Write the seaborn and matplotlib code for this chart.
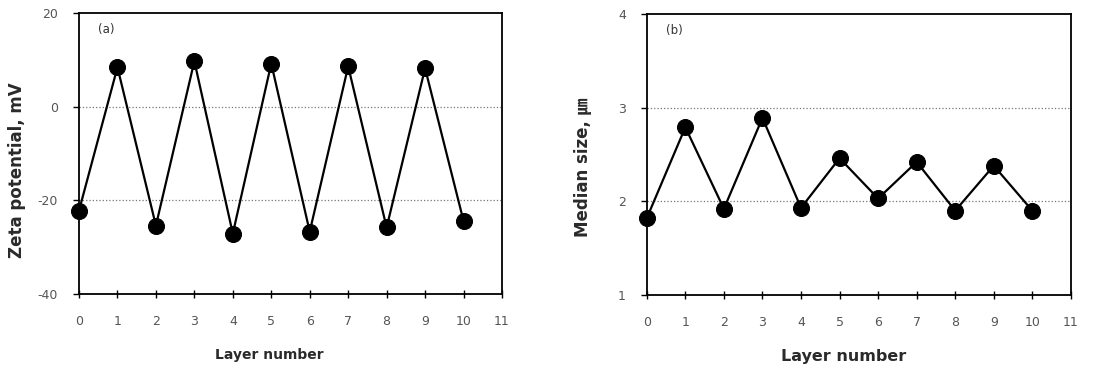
import matplotlib
matplotlib.use("Agg")
import matplotlib.pyplot as plt
import seaborn as sns
import pandas as pd

# Data
layers = [0, 1, 2, 3, 4, 5, 6, 7, 8, 9, 10]
zeta_mv = [-22.2, 8.4, -25.4, 9.7, -27.1, 9.2, -26.7, 8.6, -25.8, 8.2, -24.4]
median_um = [1.82, 2.79, 1.92, 2.89, 1.93, 2.46, 2.03, 2.42, 1.90, 2.38, 1.90]
x_ticks = list(range(0, 12))

sns.set_style("white")
plt.rcParams['font.family'] = ['DejaVu Sans', 'Noto Sans CJK KR']
plt.rcParams['axes.unicode_minus'] = False

fig = plt.figure(figsize=(11.19, 3.66), dpi=100)
ax1 = fig.add_axes([0.0706, 0.1967, 0.378, 0.768])
ax2 = fig.add_axes([0.578, 0.194, 0.379, 0.768])

df = pd.DataFrame({'layer': layers, 'zeta': zeta_mv, 'size': median_um})

panels = [
    (ax1, 'zeta', (-40, 20), [-40, -20, 0, 20], [-20, 0], 'Zeta potential, mV', '(a)',
     10, (-0.147, 0.44), (0.45, -0.217)),
    (ax2, 'size', (1, 4), [1, 2, 3, 4], [2, 3], 'Median size, \u339b', '(b)',
     11.5, (-0.151, 0.454), (0.465, -0.22)),
]

for ax, col, ylim, yticks, grid_vals, ylabel, tag, xl_size, ycoords, xcoords in panels:
    sns.lineplot(data=df, x='layer', y=col, ax=ax, color='black', linewidth=1.6,
                 marker='o', markersize=11.5, markeredgecolor='black', clip_on=False)
    ax.set_xlim(0, 11)
    ax.set_ylim(*ylim)
    ax.set_xticks(x_ticks)
    ax.set_yticks(yticks)
    for g in grid_vals:
        ax.axhline(g, color='#777777', linestyle=':', linewidth=0.9, zorder=0)
    for s in ax.spines.values():
        s.set_visible(True)
        s.set_color('black')
        s.set_linewidth(1.3)
    ax.tick_params(axis='x', direction='inout', length=6, width=1, pad=12,
                   labelsize=9, labelcolor='#555555', color='black', bottom=True)
    ax.tick_params(axis='y', direction='out', length=4, width=1, pad=11,
                   labelsize=9, labelcolor='#555555', color='black', left=True)
    ax.set_ylabel(ylabel, fontsize=12, fontweight='bold', color='#2a2a2a')
    ax.set_xlabel('Layer number', fontsize=xl_size, fontweight='bold', color='#2a2a2a')
    ax.yaxis.set_label_coords(*ycoords)
    ax.xaxis.set_label_coords(*xcoords)
    ax.xaxis.label.set_va('center')
    ax.yaxis.label.set_va('center')
    ax.text(0.045, 0.93, tag, transform=ax.transAxes, fontsize=8.5, color='#333333')

fig.savefig('out.png', dpi=100)
